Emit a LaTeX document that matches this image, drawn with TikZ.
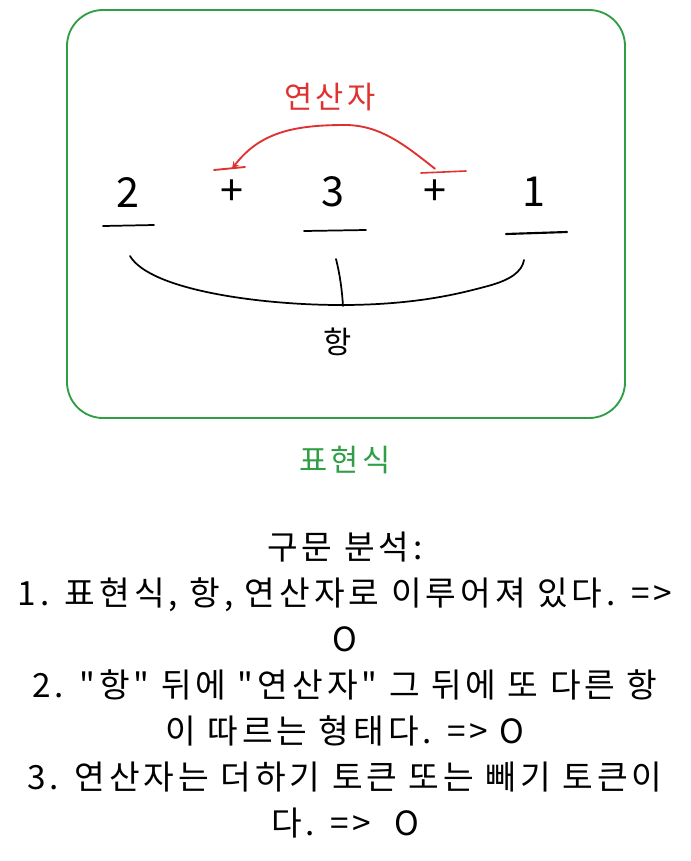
\documentclass[tikz,border=0pt]{standalone}
\usepackage{fontspec}
\setmainfont{Noto Sans CJK KR}[Ligatures=TeXOff, LetterSpace=12]
\definecolor{boxgreen}{RGB}{47,158,68}
\definecolor{opred}{RGB}{224,49,49}
\begin{document}
\begin{tikzpicture}[x=0.75pt, y=-0.75pt, >=stealth, line cap=round,
  token/.style={font=\fontsize{31}{31}\selectfont},
  label/.style={font=\fontsize{23}{23}\selectfont}]
\useasboundingbox (0,0) rectangle (691,861);

% expression box
\draw[boxgreen, line width=1.4pt, rounded corners=27pt] (67,10) rectangle (625,418);
\node[label, boxgreen] (expr) at (345,460) {표현식};

% tokens
\node[token] (n2) at (128,192) {2};
\node[token] (p1) at (232,193) {+};
\node[token] (n3) at (333,192) {3};
\node[token] (p2) at (435,193) {+};
\node[token] (n1) at (534,192) {1};

\draw[line width=1.3pt] (103,226) -- (154,225);
\draw[line width=1.3pt] (304,231) -- (366,230);
\draw[line width=1.6pt] (506,234) -- (567,232);

% operators
\node[label, opred] (op) at (330,97) {연산자};
\draw[opred, line width=1.4pt, ->] ([yshift=5pt]p2.north) .. controls (405,145) and (380,125) .. (345,125)
  .. controls (295,125) and (260,132) .. ([yshift=5pt]p1.north);
\draw[opred, line width=1.4pt] (214,170) -- (245,167);
\draw[opred, line width=1.2pt] (421,173) -- (466,171);

% terms
\node[label] (term) at (338,342) {항};
\draw[line width=1.3pt] (130,256) .. controls (150,290) and (260,305) .. (341,305)
  .. controls (420,305) and (465,292) .. (488,286) .. controls (510,280) and (522,272) .. (524,260);
\draw[line width=1.3pt] (336,259) .. controls (340,275) and (342,290) .. (343,306);

% notes
\node[font=\fontsize{25}{34.5}\selectfont, align=center, anchor=north] (notes) at (345,527)
  {구문 분석:\\
   1. 표현식, 항, 연산자로 이루어져 있다. =>\\
   O\\
   2. "항" 뒤에 "연산자" 그 뒤에 또 다른 항\\
   이 따르는 형태다. => O\\
   3. 연산자는 더하기 토큰 또는 빼기 토큰이\\
   다. =>\ \ O};
\end{tikzpicture}
\end{document}
